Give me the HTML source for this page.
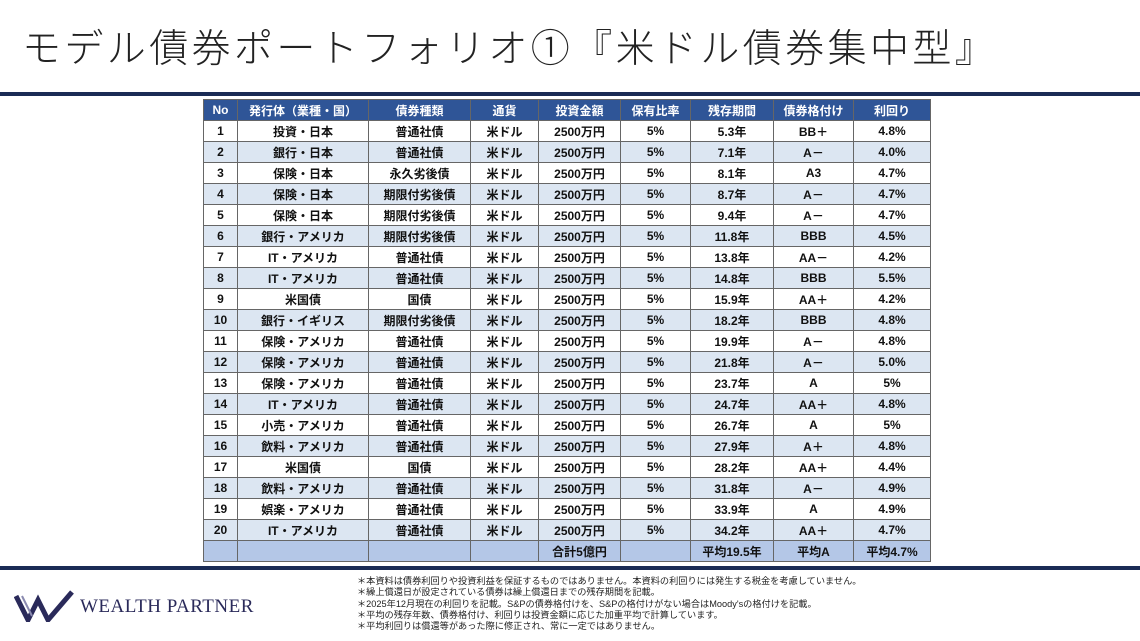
<!DOCTYPE html>
<html><head><meta charset="utf-8"><style>
*{margin:0;padding:0;box-sizing:border-box}
body{width:1140px;height:641px;background:#fff;position:relative;overflow:hidden;font-family:"Liberation Sans","Noto Sans CJK JP",sans-serif}
.title{position:absolute;left:22px;top:18px;font-size:39px;color:#222;letter-spacing:3.4px;font-weight:300;white-space:nowrap}
.bar{position:absolute;left:0;width:1140px;background:#1a2b55}
table{position:absolute;left:203px;top:99px;border-collapse:collapse;table-layout:fixed;font-weight:bold;font-size:12px;color:#111}
td,th{height:21px;border:1px solid #666;text-align:center;padding:0;white-space:nowrap}
th{background:#2f5597;color:#fff;font-size:12px}
tr.a td{background:#fff}
tr.b td{background:#dce6f2}
tr.t td{background:#b4c7e7}
.notes{position:absolute;left:357px;top:576px;font-size:9.2px;line-height:11.3px;color:#222;white-space:nowrap}
.logo{position:absolute;left:14px;top:590px}
.lt{position:absolute;left:80px;top:596px;font-family:"Liberation Serif",serif;font-size:19px;color:#2a2a5a;white-space:nowrap;letter-spacing:0.5px}
</style></head><body>
<div class="title">モデル債券ポートフォリオ①『米ドル債券集中型』</div>
<div class="bar" style="top:92px;height:4px"></div>
<table>
<colgroup><col style="width:34px"><col style="width:131px"><col style="width:102px"><col style="width:68px"><col style="width:82px"><col style="width:70px"><col style="width:83px"><col style="width:80px"><col style="width:77px"></colgroup>
<tr><th>No</th><th>発行体（業種・国）</th><th>債券種類</th><th>通貨</th><th>投資金額</th><th>保有比率</th><th>残存期間</th><th>債券格付け</th><th>利回り</th></tr>
<tr class="a"><td>1</td><td>投資・日本</td><td>普通社債</td><td>米ドル</td><td>2500万円</td><td>5%</td><td>5.3年</td><td>BB＋</td><td>4.8%</td></tr>
<tr class="b"><td>2</td><td>銀行・日本</td><td>普通社債</td><td>米ドル</td><td>2500万円</td><td>5%</td><td>7.1年</td><td>A－</td><td>4.0%</td></tr>
<tr class="a"><td>3</td><td>保険・日本</td><td>永久劣後債</td><td>米ドル</td><td>2500万円</td><td>5%</td><td>8.1年</td><td>A3</td><td>4.7%</td></tr>
<tr class="b"><td>4</td><td>保険・日本</td><td>期限付劣後債</td><td>米ドル</td><td>2500万円</td><td>5%</td><td>8.7年</td><td>A－</td><td>4.7%</td></tr>
<tr class="a"><td>5</td><td>保険・日本</td><td>期限付劣後債</td><td>米ドル</td><td>2500万円</td><td>5%</td><td>9.4年</td><td>A－</td><td>4.7%</td></tr>
<tr class="b"><td>6</td><td>銀行・アメリカ</td><td>期限付劣後債</td><td>米ドル</td><td>2500万円</td><td>5%</td><td>11.8年</td><td>BBB</td><td>4.5%</td></tr>
<tr class="a"><td>7</td><td>IT・アメリカ</td><td>普通社債</td><td>米ドル</td><td>2500万円</td><td>5%</td><td>13.8年</td><td>AA－</td><td>4.2%</td></tr>
<tr class="b"><td>8</td><td>IT・アメリカ</td><td>普通社債</td><td>米ドル</td><td>2500万円</td><td>5%</td><td>14.8年</td><td>BBB</td><td>5.5%</td></tr>
<tr class="a"><td>9</td><td>米国債</td><td>国債</td><td>米ドル</td><td>2500万円</td><td>5%</td><td>15.9年</td><td>AA＋</td><td>4.2%</td></tr>
<tr class="b"><td>10</td><td>銀行・イギリス</td><td>期限付劣後債</td><td>米ドル</td><td>2500万円</td><td>5%</td><td>18.2年</td><td>BBB</td><td>4.8%</td></tr>
<tr class="a"><td>11</td><td>保険・アメリカ</td><td>普通社債</td><td>米ドル</td><td>2500万円</td><td>5%</td><td>19.9年</td><td>A－</td><td>4.8%</td></tr>
<tr class="b"><td>12</td><td>保険・アメリカ</td><td>普通社債</td><td>米ドル</td><td>2500万円</td><td>5%</td><td>21.8年</td><td>A－</td><td>5.0%</td></tr>
<tr class="a"><td>13</td><td>保険・アメリカ</td><td>普通社債</td><td>米ドル</td><td>2500万円</td><td>5%</td><td>23.7年</td><td>A</td><td>5%</td></tr>
<tr class="b"><td>14</td><td>IT・アメリカ</td><td>普通社債</td><td>米ドル</td><td>2500万円</td><td>5%</td><td>24.7年</td><td>AA＋</td><td>4.8%</td></tr>
<tr class="a"><td>15</td><td>小売・アメリカ</td><td>普通社債</td><td>米ドル</td><td>2500万円</td><td>5%</td><td>26.7年</td><td>A</td><td>5%</td></tr>
<tr class="b"><td>16</td><td>飲料・アメリカ</td><td>普通社債</td><td>米ドル</td><td>2500万円</td><td>5%</td><td>27.9年</td><td>A＋</td><td>4.8%</td></tr>
<tr class="a"><td>17</td><td>米国債</td><td>国債</td><td>米ドル</td><td>2500万円</td><td>5%</td><td>28.2年</td><td>AA＋</td><td>4.4%</td></tr>
<tr class="b"><td>18</td><td>飲料・アメリカ</td><td>普通社債</td><td>米ドル</td><td>2500万円</td><td>5%</td><td>31.8年</td><td>A－</td><td>4.9%</td></tr>
<tr class="a"><td>19</td><td>娯楽・アメリカ</td><td>普通社債</td><td>米ドル</td><td>2500万円</td><td>5%</td><td>33.9年</td><td>A</td><td>4.9%</td></tr>
<tr class="b"><td>20</td><td>IT・アメリカ</td><td>普通社債</td><td>米ドル</td><td>2500万円</td><td>5%</td><td>34.2年</td><td>AA＋</td><td>4.7%</td></tr>
<tr class="t"><td></td><td></td><td></td><td></td><td>合計5億円</td><td></td><td>平均19.5年</td><td>平均A</td><td>平均4.7%</td></tr>
</table>
<div class="bar" style="top:566px;height:4px"></div>
<svg class="logo" width="64" height="32" viewBox="0 0 64 32"><path d="M2 6 L14 30 L24 10 L34 30 L58 2" stroke="#2a2a5a" stroke-width="5" fill="none"/><path d="M8 6 L18 26" stroke="#8a8ab0" stroke-width="2" fill="none"/></svg>
<div class="lt">WEALTH PARTNER</div>
<div class="notes">＊本資料は債券利回りや投資利益を保証するものではありません。本資料の利回りには発生する税金を考慮していません。<br>＊繰上償還日が設定されている債券は繰上償還日までの残存期間を記載。<br>＊2025年12月現在の利回りを記載。S&amp;Pの債券格付けを、S&amp;Pの格付けがない場合はMoody'sの格付けを記載。<br>＊平均の残存年数、債券格付け、利回りは投資金額に応じた加重平均で計算しています。<br>＊平均利回りは償還等があった際に修正され、常に一定ではありません。</div>
</body></html>
